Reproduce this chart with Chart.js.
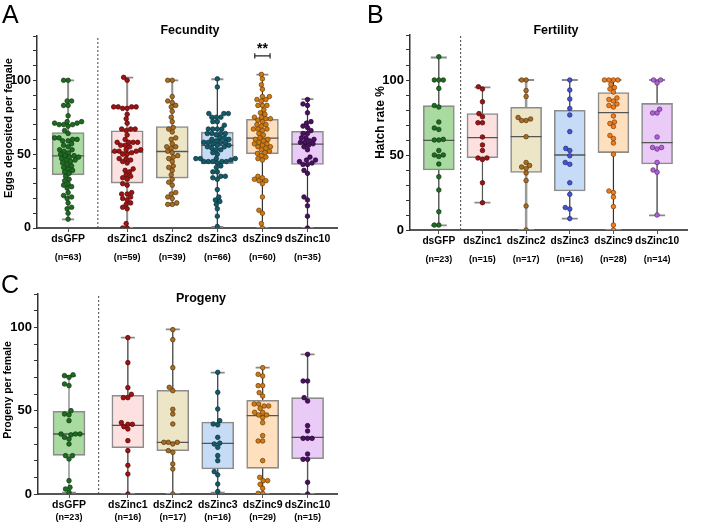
<!DOCTYPE html>
<html>
<head>
<meta charset="utf-8">
<script src="https://cdn.jsdelivr.net/npm/chart.js@4.4.1/dist/chart.umd.min.js"></script>
<style>
  body { margin: 0; background: #fff; width: 704px; height: 524px; position: relative; overflow: hidden; font-family: "Liberation Sans", Arial, sans-serif; }
  .panel { position: absolute; }
  .letter { position: absolute; font-size: 25px; line-height: 1; color: #000; }
  .ttl { position: absolute; font-weight: bold; font-size: 12.5px; line-height: 1; transform: translateX(-50%); white-space: nowrap; }
</style>
</head>
<body>
<div class="panel" style="left:0;top:0;width:355px;height:268px"><canvas id="cA"></canvas></div>
<div class="panel" style="left:360px;top:0;width:344px;height:268px"><canvas id="cB"></canvas></div>
<div class="panel" style="left:0;top:268px;width:355px;height:256px"><canvas id="cC"></canvas></div>
<div class="letter" style="left:2px;top:2px">A</div>
<div class="letter" style="left:367px;top:2px">B</div>
<div class="letter" style="left:1px;top:272px">C</div>
<div class="ttl" style="left:190px;top:24px">Fecundity</div>
<div class="ttl" style="left:556px;top:24px">Fertility</div>
<div class="ttl" style="left:201px;top:292px">Progeny</div>
<script>
const CATS = ["dsGFP", "dsZinc1", "dsZinc2", "dsZinc3", "dsZinc9", "dsZinc10"];
const X_AC = [0, 1.31, 2.31, 3.31, 4.31, 5.31];
const X_B = [0, 1, 2, 3, 4, 5];

// A: fecundity (eggs per female)
const fecN = [63, 59, 39, 66, 60, 35];
const fecMin = [5.9, 0, 15.8, 0.7, 0, 0];
const fecQ1 = [36, 30.4, 33.8, 43.5, 50.2, 43];
const fecMed = [48.9, 51.4, 51.8, 55.9, 60.8, 56.8];
const fecQ3 = [64.6, 65.8, 68.7, 64.9, 73.6, 65.5];
const fecMax = [100, 101.8, 100, 100.7, 103.8, 87.2];
const fecGFP = [100,100,86,86,83,83,76,72,72,71,71,70,70,70,69,66,64,61,61,60,60,59,59,57,56,55,53,53,52,51,50,49,49,48,48,47,46,46,45,44,43,42,41,40,39,38,37,35,33,32,30,29,28,27,24,22,21,20,17,14,13,10,6];
const fecZ1 = [102,100,82,82,82,82,81,81,77,74,71,67,67,67,66,63,60,58,58,58,58,56,56,55,53,53,52,52,52,51,50,50,47,47,46,45,44,40,39,38,36,35,34,33,30,29,24,23,23,21,20,19,17,16,14,13,3,0,0];
const fecZ2 = [100,100,89,86,85,83,82,79,75,72,68,67,65,61,60,57,55,55,54,52,51,49,48,47,45,42,41,39,36,33,31,29,24,23,21,20,17,16,16];
const fecZ3 = [101,95.5,77.5,77.5,77.5,75,75,75,72,72,69.6,67,67,67,67,64,64,64,64,63,61,61,60,60,59,58,58,58,58,57,56,56,55,55,54,53,53,51,50,47,47,47,47,46,45,45,45,45,44,42,41,38,38,35,35,34,33,26,21,19,18,16,13,8,1,45];
const fecZ9 = [104,101,97,94,89,89,87,87,86,83,83,83,80,78,77,75,75,74,74,73,72,70,70,69,67,67,67,66,64,63,61,60,60,59,58,57,57,56,55,55,54,53,52,51,50.5,49,48,47,46,35,34,33,32,32,30,21,12,10,3,0];
const fecZ10 = [87,84,83,78,72,71,69,68,66,64,64,61,61,60,59,58,58,57,56,55,53,48,46,46,45,44,43,43,39,37,21,19,15,8,0];
const fecSig = [4.31, 116.5, 121];

// B: fertility (hatch rate %)
const fertN = [23, 15, 17, 16, 28, 14];
const fertMin = [3.1, 18.2, 0, 7.6, 0, 9.8];
const fertQ1 = [40, 48.2, 38.4, 26, 51.6, 44];
const fertMed = [59.8, 61.6, 62.2, 50, 78.2, 58.2];
const fertQ3 = [82.9, 77.6, 81.8, 79.8, 91.6, 84.4];
const fertMax = [115, 95.1, 100, 100, 100, 100];
const fertGFP = [115.5,100,100,100,94.4,83,82,72,68,67,60.4,60,60,53,50,50,49,44,35.5,26.7,12.2,3.3,3.3];
const fertZ1 = [95.5,94,85.5,77.6,75.5,71.5,71.5,62,56.7,53,48,48,47,31.5,18.2];
const fertZ2 = [100,100,93,89,75,74,73,73,62.2,45,43,42,41,38,33,16,0];
const fertZ3 = [100,93.3,87.3,81,76.7,65.6,54.4,53,49.5,45,43.8,31.5,23.8,15,14,7.6];
const fertZ9 = [100,100,100,100,97,95,94,92,88,87,86,84,83,82,76,72,71,69,63,61,58,50.5,26,25,22,15.6,3.3,0];
const fertZ10 = [100,100,98,80.5,78,78,62,55,55,54,45,40,38.5,10];

// C: progeny per female
const progN = [23, 16, 17, 16, 29, 15];
const progMin = [0.8, 0, 0, 0.8, 0, 0];
const progQ1 = [23.2, 27.8, 26, 15, 15.4, 21.2];
const progMed = [36, 41.2, 31, 30.4, 47, 34];
const progQ3 = [49.6, 59.2, 62.2, 43.2, 56.2, 57.8];
const progMax = [70.8, 93.8, 98.8, 72.8, 75.8, 83.8];
const progGFP = [71.5,71,70,66,65,50,48,47.5,44,36,36,36,35.5,34,33,30,23,23,21,8,4,3,1];
const progZ1 = [93.8,78.8,63.8,59.8,57.8,57.8,42.8,41.8,41.8,40.4,39,32,26,17.2,12,0];
const progZ2 = [98.6,92.6,75.8,64,62,50.8,48,42,31,31,31,30,26,25,18,15,0];
const progZ3 = [73,61,51,44,42,41.5,34,30.5,30,28,23,20,13.4,11.5,6,1.5];
const progZ9 = [75.8,71.8,70.8,65,65,60.8,58.8,54,54,52.8,52.8,51.4,49,49,47.4,47.4,45.8,42.8,35,31.8,31.8,20,10,8,8,5.8,3.4,0.4,0.4];
const progZ10 = [83.8,67.8,67.8,57.8,55.8,41,37.8,33.4,33.4,33.4,24,20.8,20.8,7,0];

// styles
const BOX_FILL = ["#a9dba1", "#fde1e1", "#ece6c7", "#c6dbf5", "#fee0be", "#eacaf6"];
const DOT_AC = [["#1f6b22","#0b3a0e"],["#a31212","#4d0606"],["#a86c22","#553510"],["#145a68","#07323b"],["#cf7a12","#6b3c06"],["#4b1060","#220630"]];
const DOT_B = [["#1f6b22","#0b3a0e"],["#a31212","#4d0606"],["#a86c22","#553510"],["#4555cf","#202a78"],["#f07d1c","#7a3a06"],["#b262d8","#5a2a72"]];
const FONT = '"Liberation Sans", Arial, sans-serif';

Chart.defaults.font.family = FONT;
Chart.defaults.color = "#000";
Chart.defaults.animation = false;

function beeswarm(py, diam) {
  const order = py.map((_, i) => i).sort((a, b) => py[b] - py[a]);
  const placed = [], out = [];
  order.forEach(i => {
    for (let k = 0; k < 400; k++) {
      const dx = (k % 2 ? -1 : 1) * Math.ceil(k / 2) * 0.5;
      if (placed.every(q => (q.x - dx) ** 2 + (q.y - py[i]) ** 2 >= diam * diam)) {
        placed.push({ x: dx, y: py[i] });
        out[i] = dx;
        break;
      }
    }
  });
  return out;
}

// n counts under the axis, significance stars, rotated y title, and the 0/50/100 tick labels
const notes = {
  id: "notes",
  afterDraw(chart, args, o) {
    const { ctx, chartArea, scales: { x, y } } = chart;
    ctx.save();
    ctx.fillStyle = "#000";
    ctx.textAlign = "center";
    ctx.textBaseline = "middle";
    ctx.font = "bold 9px " + FONT;
    o.n.forEach((n, i) => ctx.fillText("(n=" + n + ")", x.getPixelForValue(o.pos[i]), chartArea.bottom + o.dy));
    if (o.star) {
      ctx.font = "bold 14px " + FONT;
      ctx.fillText("**", x.getPixelForValue(o.star[0]), y.getPixelForValue(o.star[2]));
    }
    ctx.textAlign = "right";
    ctx.font = "bold " + o.tickFont + "px " + FONT;
    o.labels.forEach(v => ctx.fillText(String(v), chartArea.left - 6, y.getPixelForValue(v)));
    ctx.textAlign = "center";
    ctx.translate(o.titleX, (chartArea.top + chartArea.bottom) / 2 + o.titleDy);
    ctx.rotate(-Math.PI / 2);
    ctx.font = "bold " + o.titleFont + "px " + FONT;
    ctx.fillText(o.title, 0, 0);
    ctx.restore();
  }
};

function makeChart(id, c) {
  const ds = [];
  ds.push({ type: "line", data: [{ x: c.dashX, y: 0 }, { x: c.dashX, y: c.yMax }], borderColor: "#444", borderWidth: 1, borderDash: [2, 2], pointRadius: 0, order: 6 });
  if (c.sig) {
    const [sx, sy] = c.sig, h = 0.17, t = 1.8;
    ds.push({ type: "line", spanGaps: false, data: [
      { x: sx - h, y: sy - t }, { x: sx - h, y: sy + t }, { x: sx - h, y: null },
      { x: sx - h, y: sy }, { x: sx + h, y: sy }, { x: sx + h, y: null },
      { x: sx + h, y: sy - t }, { x: sx + h, y: sy + t }
    ], borderColor: "#222", borderWidth: 1.2, pointRadius: 0, order: 6 });
  }
  c.pos.forEach((p, i) => {
    ds.push({ type: "line", data: [{ x: p, y: c.min[i] }, { x: p, y: c.max[i] }], borderColor: c.whisk[i][0], borderWidth: c.whisk[i][1], pointRadius: 0, order: 5 });
  });
  ds.push({ type: "scatter", data: c.pos.flatMap((p, i) => [{ x: p, y: c.min[i] }, { x: p, y: c.max[i] }]), pointStyle: "line", pointRadius: c.capR, borderColor: "#8a8a8a", borderWidth: 1.8, order: 4 });
  ds.push({ type: "bar", data: c.pos.map((p, i) => ({ x: p, y: [c.q1[i], c.q3[i]] })), backgroundColor: BOX_FILL, borderColor: "#8c8c8c", borderWidth: 1.6, borderSkipped: false, barThickness: c.boxW, order: 3 });
  ds.push({ type: "scatter", data: c.pos.map((p, i) => ({ x: p, y: c.med[i] })), pointStyle: "line", pointRadius: c.boxW / 2, borderColor: "#555", borderWidth: 1.3, order: 2 });
  c.points.forEach((arr, i) => {
    ds.push({ type: "scatter", swarmX: c.pos[i], data: arr.map(v => ({ x: c.pos[i], y: v })), pointRadius: 2.3, backgroundColor: c.dots[i][0], borderColor: c.dots[i][1], borderWidth: 0.7, order: 1 });
  });

  const chart = new Chart(document.getElementById(id), {
    type: "bar",
    data: { datasets: ds },
    plugins: [notes],
    options: {
      responsive: true,
      maintainAspectRatio: false,
      events: [],
      layout: { padding: c.pad },
      plugins: {
        legend: { display: false }, tooltip: { enabled: false },
        notes: { n: c.n, pos: c.pos, dy: c.nDy, star: c.sig, title: c.yTitle, titleX: c.titleX, titleDy: c.titleDy, titleFont: c.yTitleFont, labels: Y_LABELS, tickFont: c.yFont }
      },
      scales: {
        x: {
          type: "linear", min: c.xMin, max: c.xMax, offset: false,
          afterBuildTicks: s => { s.ticks = c.pos.map(v => ({ value: v })); },
          afterFit: s => { s.height = c.xHeight; },
          ticks: { callback: (v, i) => CATS[i], font: { weight: "bold", size: c.xFont }, color: "#000", padding: 1, maxRotation: 0, autoSkip: false },
          grid: { drawOnChartArea: false, tickLength: 4, tickColor: "#555", offset: false },
          border: { color: "#555", width: 2 }
        },
        y: {
          min: 0, max: c.yMax,
          afterBuildTicks: s => { s.ticks = c.yTicks.map(v => ({ value: v })); },
          afterFit: s => { s.width = c.yWidth; },
          ticks: { display: false },
          grid: { drawOnChartArea: false, tickLength: 4, tickColor: "#333" },
          border: { color: "#333", width: 1.5 }
        }
      }
    }
  });

  const xs = chart.scales.x, ys = chart.scales.y;
  const ppu = xs.getPixelForValue(1) - xs.getPixelForValue(0);
  chart.data.datasets.forEach(d => {
    if (d.swarmX === undefined) return;
    const dx = beeswarm(d.data.map(p => ys.getPixelForValue(p.y)), 4.5);
    d.data.forEach((p, i) => { p.x = d.swarmX + dx[i] / ppu; });
  });
  chart.update("none");
  return chart;
}

const TICKS_130 = [0,10,20,30,40,50,60,70,80,90,100,110,120,130];
const TICKS_120 = [0,10,20,30,40,50,60,70,80,90,100,110,120];
const Y_LABELS = [0, 50, 100];

makeChart("cA", {
  pos: X_AC, xMin: -0.69, xMax: 5.98, yMax: 130, yTicks: TICKS_130, dashX: 0.66,
  min: fecMin, q1: fecQ1, med: fecMed, q3: fecQ3, max: fecMax, n: fecN,
  points: [fecGFP, fecZ1, fecZ2, fecZ3, fecZ9, fecZ10], dots: DOT_AC,
  whisk: [["#8f8f8f", 2], ["#8f8f8f", 2], ["#8f8f8f", 2], ["#333", 1.2], ["#333", 1.2], ["#333", 1.2]],
  sig: fecSig, capR: 6, boxW: 32,
  pad: { top: 36, right: 3, left: 0, bottom: 0 }, yWidth: 37, xHeight: 40, nDy: 29.5,
  yTitle: "Eggs deposited per female", yTitleFont: 11, titleX: 9, titleDy: -4, yFont: 12.5, xFont: 10.5
});

makeChart("cB", {
  pos: X_B, xMin: -0.66, xMax: 5.69, yMax: 130, yTicks: TICKS_130, dashX: 0.5,
  min: fertMin, q1: fertQ1, med: fertMed, q3: fertQ3, max: fertMax, n: fertN,
  points: [fertGFP, fertZ1, fertZ2, fertZ3, fertZ9, fertZ10], dots: DOT_B,
  whisk: [["#333", 1.2], ["#555", 1.2], ["#999", 2.5], ["#333", 1.2], ["#333", 1.2], ["#333", 1.2]],
  sig: null, capR: 8, boxW: 31,
  pad: { top: 35, right: 1, left: 0, bottom: 0 }, yWidth: 50, xHeight: 38, nDy: 30,
  yTitle: "Hatch rate %", yTitleFont: 12, titleX: 21, titleDy: -10, yFont: 13, xFont: 10.2
});

makeChart("cC", {
  pos: X_AC, xMin: -0.69, xMax: 5.98, yMax: 120, yTicks: TICKS_120, dashX: 0.66,
  min: progMin, q1: progQ1, med: progMed, q3: progQ3, max: progMax, n: progN,
  points: [progGFP, progZ1, progZ2, progZ3, progZ9, progZ10], dots: DOT_AC,
  whisk: [["#999", 1.6], ["#333", 1.2], ["#333", 1.2], ["#333", 1.2], ["#333", 1.2], ["#555", 1.4]],
  sig: null, capR: 7, boxW: 32,
  pad: { top: 26, right: 3, left: 0, bottom: 0 }, yWidth: 38, xHeight: 30, nDy: 24,
  yTitle: "Progeny per female", yTitleFont: 10.5, titleX: 8, titleDy: -4, yFont: 13, xFont: 10.5
});
</script>
</body>
</html>
